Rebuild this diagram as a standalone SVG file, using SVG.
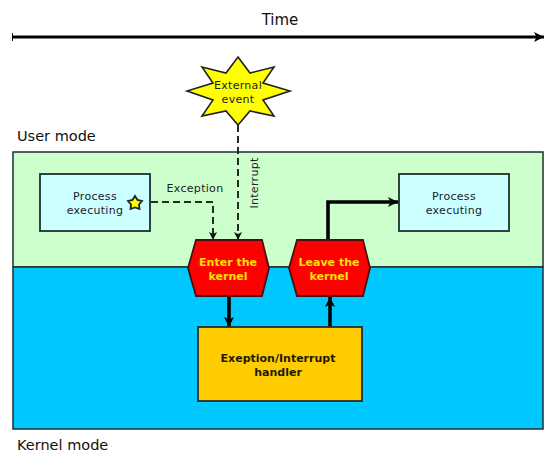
<svg xmlns="http://www.w3.org/2000/svg" width="559" height="456" viewBox="0 0 559 456">
<style>
text{font-family:"DejaVu Sans","Liberation Sans",sans-serif;text-anchor:middle;fill:#1a2228}
.l{font-size:14.5px;fill:#111;text-anchor:start}
.s{font-size:11px;letter-spacing:.3px}
.b{font-size:11px;font-weight:bold;fill:#221a00}
.y{font-size:11px;font-weight:bold;fill:#ffe000}
.box{fill:#ccffff;stroke:#1f2f2f;stroke-width:1.8}
.hex{fill:#ff0000;stroke:#4a1010;stroke-width:1.8}
.c{fill:none;stroke:#1f2f1f}
.d{stroke-width:2;stroke-dasharray:7 4}
.t{stroke:#000;stroke-width:3.6}
</style>
<defs>
<marker id="a" markerUnits="userSpaceOnUse" markerWidth="10" markerHeight="10" refX="8" refY="4" orient="auto"><path d="M0 0L8 4L0 8L2 4Z" fill="#111"/></marker>
<marker id="h" markerUnits="userSpaceOnUse" markerWidth="12" markerHeight="12" refX="10" refY="5" orient="auto"><path d="M0 0L10 5L0 10L2.5 5Z" fill="#000"/></marker>
</defs>
<rect width="559" height="456" fill="#fff"/>
<g id="user-mode"><rect x="13" y="152" width="530" height="115" fill="#ccffcc" stroke="#1f2f2f" stroke-width="1.500"/><text class="l" x="17" y="141">User mode</text></g>
<g id="kernel-mode"><rect x="13" y="267" width="530" height="162" fill="#00c8ff" stroke="#1f2f2f" stroke-width="1.500"/><text class="l" x="17" y="450">Kernel mode</text></g>
<g id="time"><text x="280" y="25" style="font-size:15px;fill:#111">Time</text><path d="M12.500 33V41" stroke="#111" stroke-width="1"/></g>
<g id="connectors">
<path class="c t" d="M12 37H544" style="stroke-width:3" marker-end="url(#h)"/>
<path class="c d" d="M238 125V240" marker-end="url(#a)"/>
<path class="c d" d="M140 202H213V240" marker-end="url(#a)"/>
<path class="c t" d="M229 297V327" marker-end="url(#h)"/>
<path class="c t" d="M330 327V297" marker-end="url(#h)"/>
<path class="c t" d="M328 240V202H398" marker-end="url(#h)"/>
</g>
<g id="external-event"><path d="M238 57L250 73L274 67L263 83L290 91L263 100L274 116L250 111L238 125L226 111L202 116L213 100L187 91L213 83L202 67L226 73Z" fill="#ffff00" stroke="#222" stroke-width="1.600"/><text class="s" x="238" y="89">External</text><text class="s" x="238" y="103">event</text></g>
<g id="process-1"><rect class="box" x="40" y="174" width="110" height="57"/><text class="s" x="95" y="200">Process</text><text class="s" x="95" y="214">executing</text><path d="M135 196L137.500 200L142 201L139 204.500L139.500 209L135 207.500L130.500 209L131 204.500L128 201L132.500 200Z" fill="#ffff00" stroke="#222" stroke-width="1.800"/></g>
<g id="process-2"><rect class="box" x="399" y="174" width="110" height="57"/><text class="s" x="454" y="200">Process</text><text class="s" x="454" y="214">executing</text></g>
<g id="enter"><path class="hex" d="M196 240H262L269 268L262 296H196L188 268Z"/><text class="y" x="228" y="266">Enter the</text><text class="y" x="228" y="280">kernel</text></g>
<g id="leave"><path class="hex" d="M297 240H363L370 268L363 296H297L289 268Z"/><text class="y" x="329" y="266">Leave the</text><text class="y" x="329" y="280">kernel</text></g>
<g id="handler"><rect x="198" y="327" width="164" height="74" fill="#ffcc00" stroke="#1f2f2f" stroke-width="1.800"/><text class="b" x="278" y="362">Exeption/Interrupt</text><text class="b" x="278" y="376">handler</text></g>
<text class="s" x="195" y="192">Exception</text>
<text class="s" transform="translate(258 183) rotate(-90)" x="0" y="0">Interrupt</text>
</svg>
